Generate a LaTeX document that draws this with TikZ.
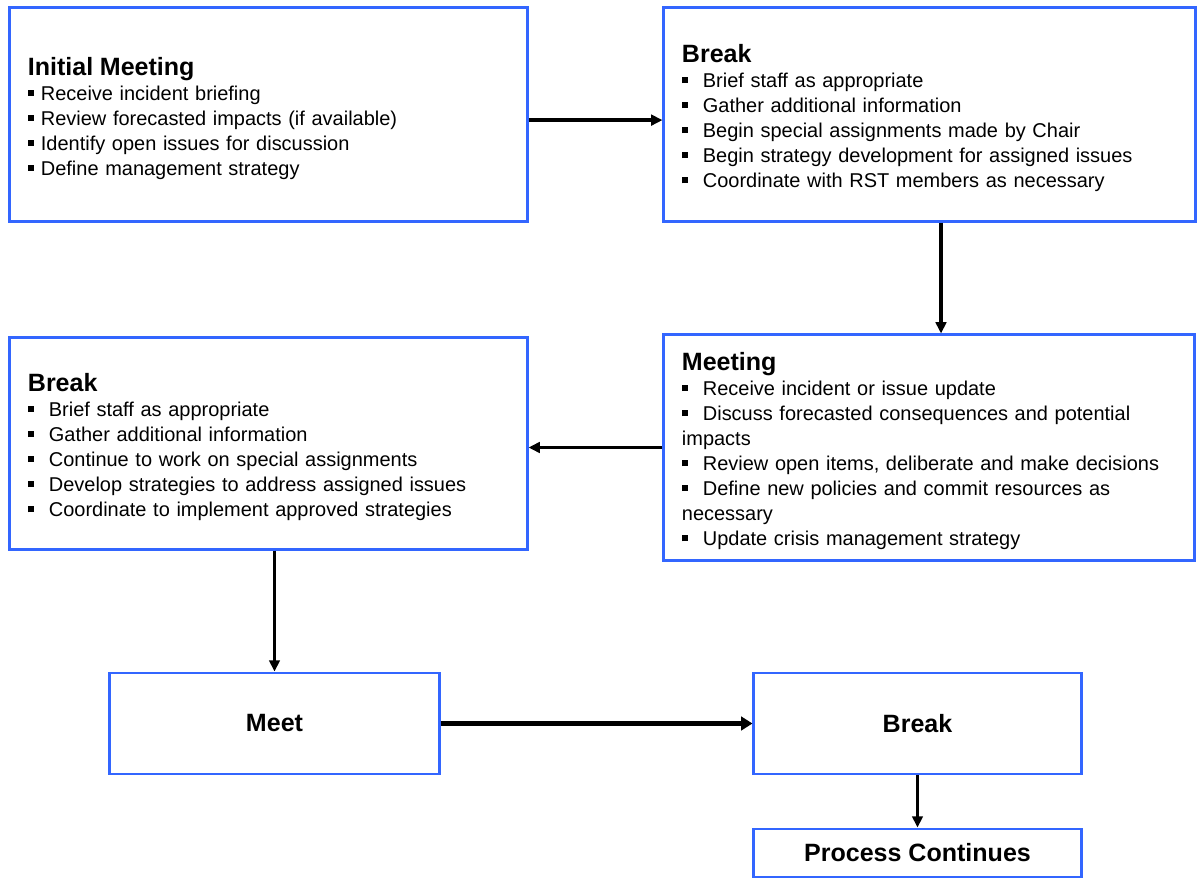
\documentclass[tikz,border=0pt]{standalone}
\usepackage{fontspec}
\setmainfont{Liberation Sans}
\usetikzlibrary{arrows.meta}
\definecolor{boxblue}{RGB}{51,102,255}
\newcommand\bul{\rule[0.22em]{0.3em}{0.3em}}
\newcommand\ttl[1]{{\fontsize{17.8pt}{17.8pt}\selectfont\bfseries\rule{0pt}{18pt}#1}}

\begin{document}
\begin{tikzpicture}[x=0.025cm,y=-0.025cm,
    stepbox/.style={draw=boxblue,line width=2.1pt,fill=white,inner sep=0pt,
      align=left,font=\fontsize{14.2pt}{17.8pt}\selectfont},
    smallbox/.style={draw=boxblue,line width=2.1pt,fill=white,inner sep=0pt,
      font=\fontsize{17.8pt}{17.8pt}\selectfont\bfseries},
    flow/.style={line width=2.8pt,-{Triangle[length=8pt,width=7.5pt]}}]
    \useasboundingbox (0,0) rectangle (1200,878);
    % top row
    \node[stepbox,minimum width=12.925cm,minimum height=5.325cm,text width=12.025cm]
      (im) at (268.5,114.5) {\ttl{Initial Meeting}\\
      \bul\hspace{0.35em}Receive incident briefing\\
      \bul\hspace{0.35em}Review forecasted impacts (if available)\\
      \bul\hspace{0.35em}Identify open issues for discussion\\
      \bul\hspace{0.35em}Define management strategy};
    \node[stepbox,minimum width=13.275cm,minimum height=5.325cm,text width=12.375cm]
      (br1) at (929.5,114.5) {\ttl{Break}\\
      \bul\hspace{0.75em}Brief staff as appropriate\\
      \bul\hspace{0.75em}Gather additional information\\
      \bul\hspace{0.75em}Begin special assignments made by Chair\\
      \bul\hspace{0.75em}Begin strategy development for assigned issues\\
      \bul\hspace{0.75em}Coordinate with RST members as necessary};
    % middle row
    \node[stepbox,minimum width=13.25cm,minimum height=5.625cm,text width=12.35cm]
      (mt) at (929,447.5) {\ttl{Meeting}\\
      \bul\hspace{0.75em}Receive incident or issue update\\
      \bul\hspace{0.75em}Discuss forecasted consequences and potential\\
      impacts\\
      \bul\hspace{0.75em}Review open items, deliberate and make decisions\\
      \bul\hspace{0.75em}Define new policies and commit resources as\\
      necessary\\
      \bul\hspace{0.75em}Update crisis management strategy};
    \node[stepbox,minimum width=12.925cm,minimum height=5.275cm,text width=12.025cm]
      (br2) at (268.5,443.5) {\ttl{Break}\\
      \bul\hspace{0.75em}Brief staff as appropriate\\
      \bul\hspace{0.75em}Gather additional information\\
      \bul\hspace{0.75em}Continue to work on special assignments\\
      \bul\hspace{0.75em}Develop strategies to address assigned issues\\
      \bul\hspace{0.75em}Coordinate to implement approved strategies};
    % bottom
    \node[smallbox,minimum width=8.225cm,minimum height=2.525cm] (meet) at (274.5,723.5) {Meet};
    \node[smallbox,minimum width=8.175cm,minimum height=2.525cm] (br3) at (917.5,723.5) {Break};
    \node[smallbox,minimum width=8.175cm,minimum height=1.2cm] (pc) at (917.5,853) {Process Continues};
    % connectors
    \draw[flow] ([yshift=-0.14cm]im.east) -- ([yshift=-0.14cm]br1.west);
    \draw[flow] ([xshift=0.3cm]mt.north |- br1.south) -- ([xshift=0.3cm]mt.north);
    \draw[flow] (mt.west) -- (mt.west -| br2.east);
    \draw[flow] (br2.south -| meet.north) -- (meet.north);
    \draw[flow,line width=4.2pt,-{Triangle[length=8pt,width=9.5pt]}] (meet.east) -- (br3.west);
    \draw[flow] (br3.south) -- (pc.north);
\end{tikzpicture}
\end{document}
